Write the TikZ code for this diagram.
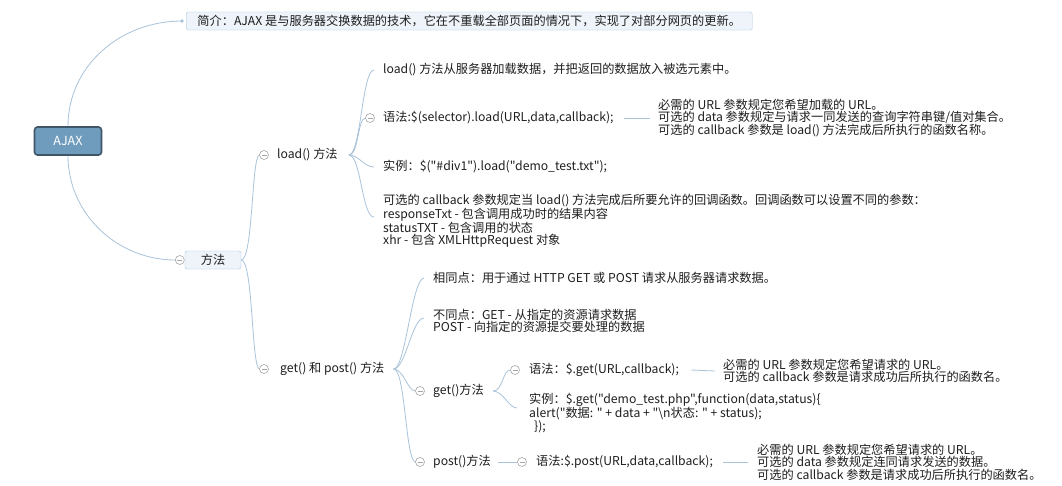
\documentclass[tikz,border=0pt]{standalone}
\usepackage{fontspec}
\setmainfont{Noto Sans CJK SC}[Ligatures=TeXOff]
\usepackage{tikz}
\usetikzlibrary{arrows}

\definecolor{linec}{HTML}{A9C3DA}
\definecolor{rootfill}{HTML}{6F9BBD}
\definecolor{rootline}{HTML}{3E5668}
\definecolor{boxfill}{HTML}{EEF4FA}
\definecolor{boxline}{HTML}{A8C4DC}
\definecolor{foldc}{HTML}{A6A6A6}
\definecolor{txt}{HTML}{1E1E1E}

\begin{document}
\begin{tikzpicture}[x=1pt, y=-1pt, font=\fontsize{12.2}{12.4}\selectfont,
    root/.style={rectangle, rounded corners=3pt, draw=rootline, line width=1.6pt, fill=rootfill, minimum width=67pt, minimum height=28pt, text=white, font=\fontsize{12.5}{12.5}\selectfont},
    topic/.style={rectangle, rounded corners=1.5pt, draw=boxline, fill=boxfill, minimum height=18pt, inner sep=1pt, text=txt},
    leaf/.style={inner sep=1pt, align=left, anchor=west, text=txt},
    branch/.style={draw=linec, line width=0.8pt},
    fold/.style={draw=foldc, fill=white, line width=0.6pt}]
    \useasboundingbox[fill=white] (0,0) rectangle (1062,485);

    \node[root] (ajax) at (68,141) {AJAX};
    \node[topic, anchor=west, minimum width=566pt] (intro) at (186,21) {简介：AJAX 是与服务器交换数据的技术，它在不重载全部页面的情况下，实现了对部分网页的更新。};
    \node[topic, minimum width=56pt] (method) at (213,260) {方法};

    \node[leaf] (load) at (276,155) {load() 方法};
    \node[leaf] (getpost) at (279,369) {get() 和 post() 方法};

    \node[leaf] (loaddesc) at (382,70) {load() 方法从服务器加载数据，并把返回的数据放入被选元素中。};
    \node[leaf] (loadsyn) at (382,118) {语法:\$(selector).load(URL,data,callback);};
    \node[leaf] (loadsynnote) at (657,118) {必需的 URL 参数规定您希望加载的 URL。\\可选的 data 参数规定与请求一同发送的查询字符串键/值对集合。\\可选的 callback 参数是 load() 方法完成后所执行的函数名称。};
    \node[leaf] (loadex) at (382,167) {实例：\$("\#div1").load("demo\_test.txt");};
    \node[leaf] (loadcb) at (382,221) {可选的 callback 参数规定当 load() 方法完成后所要允许的回调函数。回调函数可以设置不同的参数：\\responseTxt - 包含调用成功时的结果内容\\statusTXT - 包含调用的状态\\xhr - 包含 XMLHttpRequest 对象};

    \node[leaf] (same) at (432,278) {相同点：用于通过 HTTP GET 或 POST 请求从服务器请求数据。};
    \node[leaf] (diff) at (432,321) {不同点：GET - 从指定的资源请求数据\\POST - 向指定的资源提交要处理的数据};
    \node[leaf] (get) at (432,391) {get()方法};
    \node[leaf] (post) at (432,462) {post()方法};

    \node[leaf] (getsyn) at (528,370) {语法：\$.get(URL,callback);};
    \node[leaf] (getsynnote) at (722,371) {必需的 URL 参数规定您希望请求的 URL。\\可选的 callback 参数是请求成功后所执行的函数名。};
    \node[leaf] (getex) at (528,413) {实例：\$.get("demo\_test.php",function(data,status)\{\\alert("数据: " + data + "\textbackslash n状态: " + status);\\\hspace{5pt}\});};
    \node[leaf] (postsyn) at (535,462) {语法:\$.post(URL,data,callback);};
    \node[leaf] (postsynnote) at (756,462) {必需的 URL 参数规定您希望请求的 URL。\\可选的 data 参数规定连同请求发送的数据。\\可选的 callback 参数是请求成功后所执行的函数名。};

    \draw[branch] (ajax.north) .. controls +(0,-60) and +(-62,0) .. ([xshift=-4pt]intro.west);
    \fill[linec] ([xshift=-4pt]intro.west) circle (1.8pt);
    \draw[branch] (ajax.south) .. controls +(0,58) and +(-58,0) .. ([xshift=-9.5pt]method.west);

    \draw[branch] (method.east) .. controls +(12,0) and +(-8,0) .. ([xshift=-16.5pt]load.west);
    \draw[branch] (method.east) .. controls +(12,0) and +(-8,0) .. ([xshift=-19.5pt]getpost.west);

    \draw[branch] ([xshift=10pt]load.east) .. controls +(12,0) and +(-12,0) .. ([xshift=-8pt]loaddesc.west);
    \draw[branch] ([xshift=10pt]load.east) .. controls +(10,0) and +(-8,0) .. ([xshift=-16.5pt]loadsyn.west);
    \draw[branch] ([xshift=10pt]load.east) .. controls +(10,0) and +(-10,0) .. ([xshift=-8pt]loadex.west);
    \draw[branch] ([xshift=10pt]load.east) .. controls +(12,0) and +(-12,0) .. ([xshift=-8pt, yshift=4pt]loadcb.west);

    \draw[branch] ([xshift=8pt]getpost.east) .. controls +(12,0) and +(-12,0) .. ([xshift=-8pt]same.west);
    \draw[branch] ([xshift=8pt]getpost.east) .. controls +(12,0) and +(-12,0) .. ([xshift=-8pt, yshift=3pt]diff.west);
    \draw[branch] ([xshift=8pt]getpost.east) .. controls +(10,0) and +(-8,0) .. ([xshift=-16.5pt]get.west);
    \draw[branch] ([xshift=8pt]getpost.east) .. controls +(12,0) and +(-10,0) .. ([xshift=-16.5pt]post.west);

    \draw[branch] ([xshift=8pt]get.east) .. controls +(10,0) and +(-8,0) .. ([xshift=-17.5pt]getsyn.west);
    \draw[branch] ([xshift=8pt]get.east) .. controls +(10,0) and +(-8,0) .. ([xshift=-11pt, yshift=5pt]getex.west);
    \draw[branch] ([xshift=6pt]post.east) -- ([xshift=-17.5pt]postsyn.west);

    \draw[branch] ([xshift=9pt]loadsyn.east) -- ([xshift=-7pt]loadsynnote.west);
    \draw[branch] ([xshift=11pt]getsyn.east) -- ([xshift=-7pt]getsynnote.west);
    \draw[branch] ([xshift=9pt]postsyn.east) -- ([xshift=-8pt]postsynnote.west);

    \foreach \n/\d in {method/5, load/12, loadsyn/12, getpost/15, get/12, getsyn/13, post/12, postsyn/13} {
        \draw[fold] ([xshift=-\d pt]\n.west) circle (4.5pt);
        \draw[foldc, line width=0.6pt] ([xshift=-\d pt]\n.west) +(-2.5,0) -- +(2.5,0);
    }
\end{tikzpicture}
\end{document}
